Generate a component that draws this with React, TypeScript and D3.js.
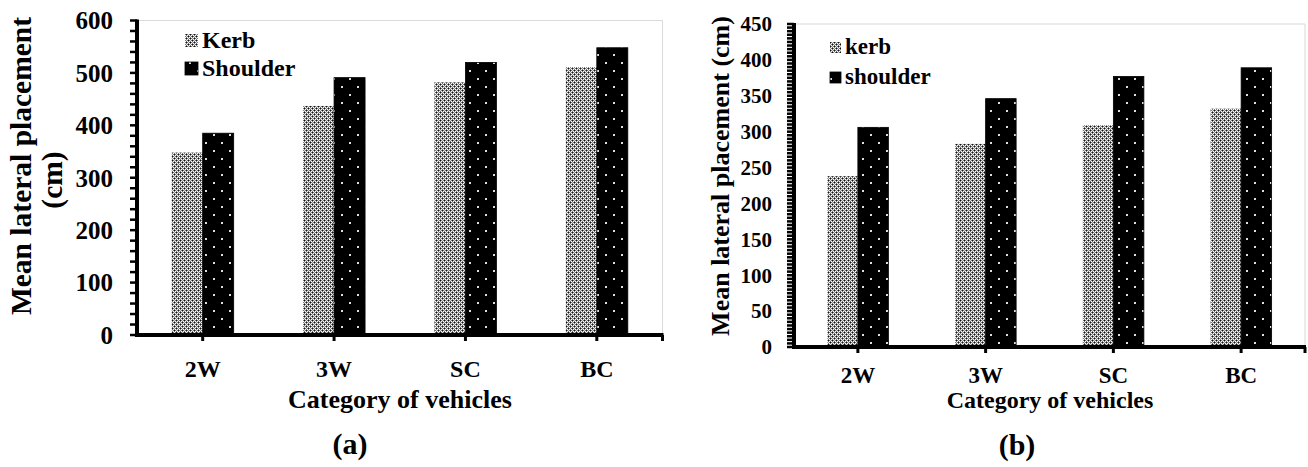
import React from "react";
import * as d3 from "d3";

const categories = ["2W", "3W", "SC", "BC"];
const kerbA = [348, 437, 482, 511];
const shoulderA = [385, 491, 520, 548];
const kerbB = [238, 283, 309, 332];
const shoulderB = [306, 346, 377, 389];
const ticksA = [0, 100, 200, 300, 400, 500, 600];
const ticksB = [0, 50, 100, 150, 200, 250, 300, 350, 400, 450];

const FONT = "'Liberation Serif', 'Times New Roman', serif";

type PanelProps = {
  id: string;
  left: number; top: number; right: number; bottom: number;
  yMax: number; ticks: number[]; minorStep: number;
  kerb: number[]; shoulder: number[];
  barW: number;
  tickFont: number; tickRight: number;
  catFont: number; catBaseline: number;
  xTitleFont: number; xTitleX: number; xTitleY: number;
  panelLabel: string; panelFont: number; panelX: number; panelY: number;
  legendNames: string[]; legendFont: number; legendX: number; legendY: number[]; legendBox: number;
  yTitleLines: { text: string; x: number; y: number }[]; yTitleFont: number;
};

function Panel(p: PanelProps) {
  const x = d3.scaleBand<string>().domain(categories).range([p.left, p.right]).padding(0);
  const y = d3.scaleLinear().domain([0, p.yMax]).range([p.bottom, p.top]);
  const minor = d3.range(0, p.yMax + 0.001, p.minorStep);
  const centers = categories.map((c) => (x(c) as number) + x.bandwidth() / 2);
  return (
    <g>
      <line x1={p.left} x2={p.right} y1={p.top} y2={p.top} stroke="#d9d9d9" strokeWidth={1} />
      <line x1={p.right} x2={p.right} y1={p.top} y2={p.bottom} stroke="#d9d9d9" strokeWidth={1} />
      {categories.map((c, i) => {
        const cx = centers[i];
        return (
          <g key={c}>
            <rect x={cx - p.barW} y={y(p.kerb[i])} width={p.barW} height={p.bottom - y(p.kerb[i])} fill={`url(#kerb-${p.id})`} />
            <rect x={cx} y={y(p.shoulder[i])} width={p.barW} height={p.bottom - y(p.shoulder[i])} fill={`url(#sh-${p.id})`} stroke="#000" strokeWidth={0.8} />
          </g>
        );
      })}
      {minor.map((v) => (
        <line key={v} x1={p.left - 7} x2={p.left} y1={y(v)} y2={y(v)} stroke="#000" strokeWidth={2.5} />
      ))}
      <line x1={p.left} x2={p.left} y1={p.top - 1} y2={p.bottom + 2} stroke="#000" strokeWidth={4} />
      <line x1={p.left - 2} x2={p.right + 1} y1={p.bottom} y2={p.bottom} stroke="#000" strokeWidth={4} />
      {centers.concat([p.right]).map((cx, i) => (
        <line key={i} x1={cx} x2={cx} y1={p.bottom} y2={p.bottom + 6} stroke="#000" strokeWidth={3} />
      ))}
      {p.ticks.map((v) => (
        <text key={v} x={p.tickRight} y={y(v)} dy="0.35em" textAnchor="end" fontFamily={FONT} fontWeight="bold" fontSize={p.tickFont}>{v}</text>
      ))}
      {categories.map((c, i) => (
        <text key={c} x={centers[i]} y={p.catBaseline} textAnchor="middle" fontFamily={FONT} fontWeight="bold" fontSize={p.catFont}>{c}</text>
      ))}
      <text x={p.xTitleX} y={p.xTitleY} textAnchor="middle" fontFamily={FONT} fontWeight="bold" fontSize={p.xTitleFont}>Category of vehicles</text>
      <text x={p.panelX} y={p.panelY} textAnchor="middle" fontFamily={FONT} fontWeight="bold" fontSize={p.panelFont}>{p.panelLabel}</text>
      {p.yTitleLines.map((l, i) => (
        <text key={i} transform={`translate(${l.x},${l.y}) rotate(-90)`} textAnchor="middle" fontFamily={FONT} fontWeight="bold" fontSize={p.yTitleFont}>{l.text}</text>
      ))}
      {p.legendNames.map((n, i) => (
        <g key={n}>
          <rect x={p.legendX} y={p.legendY[i] - p.legendBox} width={p.legendBox} height={p.legendBox} fill={i === 0 ? `url(#kerb-${p.id})` : `url(#sh-${p.id})`} stroke={i === 0 ? "none" : "#000"} strokeWidth={0.8} />
          <text x={p.legendX + p.legendBox + 4} y={p.legendY[i] + 1} fontFamily={FONT} fontWeight="bold" fontSize={p.legendFont}>{n}</text>
        </g>
      ))}
    </g>
  );
}

function Patterns({ id }: { id: string }) {
  return (
    <>
      <pattern id={`kerb-${id}`} width={4} height={4} patternUnits="userSpaceOnUse">
        <rect width={4} height={4} fill="#777" />
        <rect x={0} y={0} width={1} height={1} fill="#111" />
        <rect x={2} y={2} width={1} height={1} fill="#111" />
        <rect x={1} y={1} width={1} height={1} fill="#fff" />
        <rect x={3} y={3} width={1} height={1} fill="#fff" />
        <rect x={3} y={1} width={1} height={1} fill="#fff" />
        <rect x={1} y={3} width={1} height={1} fill="#fff" />
        <rect x={2} y={0} width={1} height={1} fill="#ddd" />
        <rect x={0} y={2} width={1} height={1} fill="#ddd" />
      </pattern>
      <pattern id={`sh-${id}`} width={16} height={16} patternUnits="userSpaceOnUse" x={id === "a" ? 2 : 3} y={3}>
        <rect width={16} height={16} fill="#000" />
        <rect x={3} y={3} width={2} height={2} fill="#ddd" />
        <rect x={11} y={11} width={2} height={2} fill="#ddd" />
      </pattern>
    </>
  );
}

export default function App() {
  return (
    <svg width={1308} height={467} style={{ display: "block", position: "absolute", left: 0, top: 0, background: "#fff" }}>
      <defs>
        <Patterns id="a" />
        <Patterns id="b" />
      </defs>
      <Panel
        id="a" left={137} top={20.5} right={662.5} bottom={335}
        yMax={600} ticks={ticksA} minorStep={20}
        kerb={kerbA} shoulder={shoulderA} barW={31}
        tickFont={25} tickRight={113}
        catFont={24} catBaseline={377}
        xTitleFont={26} xTitleX={400} xTitleY={408}
        panelLabel="(a)" panelFont={30} panelX={350} panelY={454}
        legendNames={["Kerb", "Shoulder"]} legendFont={24} legendX={185} legendY={[47, 75]} legendBox={13}
        yTitleLines={[{ text: "Mean lateral placement", x: 31, y: 166 }, { text: "(cm)", x: 62, y: 180 }]} yTitleFont={29.5}
      />
      <Panel
        id="b" left={794} top={24} right={1305} bottom={347}
        yMax={450} ticks={ticksB} minorStep={5}
        kerb={kerbB} shoulder={shoulderB} barW={30.5}
        tickFont={21} tickRight={772}
        catFont={23} catBaseline={383}
        xTitleFont={24} xTitleX={1050} xTitleY={408}
        panelLabel="(b)" panelFont={30} panelX={1017} panelY={455}
        legendNames={["kerb", "shoulder"]} legendFont={23} legendX={830} legendY={[53, 83]} legendBox={11}
        yTitleLines={[{ text: "Mean lateral placement (cm)", x: 729, y: 176 }]} yTitleFont={26}
      />
    </svg>
  );
}
